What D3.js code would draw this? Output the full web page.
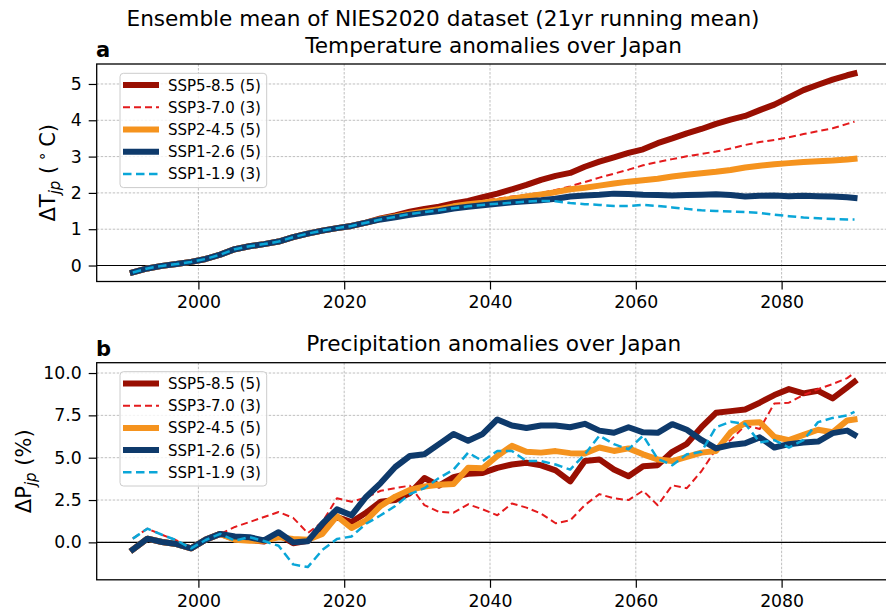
<!DOCTYPE html>
<html>
<head>
<meta charset="utf-8">
<script src="https://cdn.jsdelivr.net/npm/d3@7"></script>
<style>
  html, body { margin: 0; padding: 0; background: #fff; }
  svg { display: block; font-family: "DejaVu Sans", sans-serif; }
</style>
</head>
<body>
<svg id="chart" width="886" height="612"></svg>
<script>
// ---------------- data ----------------
const years = [1991,1993,1995,1997,1999,2001,2003,2005,2007,2009,2011,2013,2015,2017,2019,2021,2023,2025,2027,2029,
  2031,2033,2035,2037,2039,2041,2043,2045,2047,2049,2051,2053,2055,2057,2059,2061,2063,2065,2067,2069,
  2071,2073,2075,2077,2079,2081,2083,2085,2087,2089,2090];

const scenarios = ["SSP5-8.5 (5)", "SSP3-7.0 (3)", "SSP2-4.5 (5)", "SSP1-2.6 (5)", "SSP1-1.9 (3)"];

// Temperature anomalies (deg C)
const tSSP585 = [-0.19,-0.08,-0.01,0.04,0.1,0.18,0.3,0.45,0.53,0.59,0.66,0.78,0.88,0.96,1.03,1.09,1.18,
  1.3,1.38,1.48,1.56,1.62,1.71,1.78,1.88,1.98,2.1,2.22,2.36,2.47,2.55,2.72,2.86,2.98,3.1,3.2,3.37,3.5,3.64,3.76,3.9,4.02,4.12,4.28,4.43,4.63,4.83,4.98,5.12,5.24,5.29];
const tSSP370 = [-0.19,-0.08,-0.01,0.04,0.1,0.18,0.3,0.45,0.53,0.59,0.66,0.78,0.88,0.96,1.03,1.09,1.18,
  1.28,1.35,1.44,1.5,1.57,1.64,1.71,1.78,1.84,1.9,1.95,2.0,2.08,2.18,2.3,2.42,2.53,2.64,2.76,2.85,2.93,3.01,3.07,3.14,3.22,3.32,3.4,3.46,3.53,3.62,3.7,3.78,3.9,3.96];
const tSSP245 = [-0.19,-0.08,-0.01,0.04,0.1,0.18,0.3,0.45,0.53,0.59,0.66,0.78,0.88,0.96,1.03,1.09,1.18,
  1.28,1.35,1.43,1.49,1.55,1.63,1.69,1.73,1.78,1.84,1.9,1.96,2.02,2.1,2.14,2.2,2.26,2.31,2.35,2.39,2.45,2.5,2.54,2.58,2.63,2.7,2.75,2.79,2.82,2.85,2.87,2.89,2.92,2.94];
const tSSP126 = [-0.19,-0.08,-0.01,0.04,0.1,0.18,0.3,0.45,0.53,0.59,0.66,0.78,0.88,0.96,1.03,1.09,1.18,
  1.27,1.33,1.4,1.45,1.5,1.57,1.62,1.66,1.7,1.74,1.77,1.8,1.84,1.9,1.93,1.95,1.98,1.97,1.95,1.94,1.93,1.94,1.95,1.96,1.94,1.9,1.92,1.93,1.91,1.92,1.91,1.9,1.88,1.86];
const tSSP119 = [-0.19,-0.08,-0.01,0.04,0.1,0.18,0.3,0.45,0.53,0.59,0.66,0.78,0.88,0.96,1.03,1.09,1.18,
  1.27,1.34,1.42,1.47,1.52,1.58,1.63,1.67,1.7,1.73,1.76,1.78,1.77,1.72,1.69,1.67,1.64,1.64,1.67,1.64,1.6,1.56,1.52,1.5,1.49,1.47,1.45,1.4,1.36,1.32,1.3,1.28,1.27,1.27];

// Precipitation anomalies (%)
const pSSP585 = [-0.43,0.22,0.02,-0.1,-0.35,0.16,0.5,
  0.2,0.15,0.05,0.45,-0.05,0.1,0.9,1.5,1.2,1.75,2.4,2.5,2.9,3.8,3.35,3.85,4.05,4.1,4.4,4.6,
  4.7,4.55,4.25,3.6,4.8,4.9,4.3,3.9,4.5,4.56,5.35,5.82,6.8,7.65,7.75,7.85,8.25,8.7,9.05,8.8,8.95,8.5,9.15,9.49];
const pSSP370 = [0.22,0.81,0.45,0.12,-0.35,0.14,0.5,
  0.91,1.2,1.5,1.79,1.45,0.55,1.2,2.6,2.4,2.65,3.05,3.2,3.35,2.2,1.8,1.75,2.25,1.95,1.6,2.3,
  2.05,1.7,1.13,1.3,2.2,2.85,2.6,2.5,3.05,2.19,3.37,3.2,4.2,5.5,6.04,6.9,6.7,8.2,8.25,8.7,9.05,9.35,9.7,10.02];
const pSSP245 = [-0.43,0.22,0.02,-0.1,-0.35,0.16,0.5,
  0.15,0.1,0.1,0.3,0.2,0.15,0.5,1.55,0.85,1.3,2.15,2.7,3.1,3.3,3.4,3.45,4.4,4.38,5.1,5.7,
  5.35,5.3,5.39,5.27,5.25,5.6,5.4,5.55,5.2,4.9,4.8,5.05,5.3,5.4,6.5,7.05,7.1,6.23,6.04,6.35,6.65,6.5,7.2,7.26];
const pSSP126 = [-0.43,0.22,0.02,-0.1,-0.35,0.16,0.5,
  0.35,0.3,0.12,0.6,0.0,0.06,1.1,1.95,1.6,2.68,3.5,4.45,5.1,5.2,5.8,6.4,6.0,6.4,7.26,6.9,
  6.75,6.9,6.9,6.8,7.0,6.6,6.47,6.8,6.5,6.47,6.98,6.65,6.05,5.55,5.75,5.85,6.2,5.6,5.8,5.9,5.95,6.45,6.6,6.35];
const pSSP119 = [0.22,0.81,0.45,0.12,-0.35,0.14,0.5,
  0.1,0.31,0.08,-0.2,-1.3,-1.46,-0.45,0.2,0.35,1.1,1.6,2.15,2.85,3.2,3.8,4.3,5.3,4.8,5.4,5.4,
  4.8,4.8,4.6,4.3,5.2,6.3,5.8,5.5,6.3,4.93,4.56,5.2,5.35,6.8,7.12,7.0,5.9,6.04,5.6,6.04,7.1,7.35,7.5,7.71];

const xTicks = [2000, 2020, 2040, 2060, 2080];
const tTicks = [0, 1, 2, 3, 4, 5];
const pTicks = [0, 2.5, 5, 7.5, 10];

// ---------------- styles ----------------
const styles = [
  {color: "#990f02", width: 6,   dash: null},
  {color: "#e41a1c", width: 2,   dash: "7,4"},
  {color: "#f5931e", width: 6,   dash: null},
  {color: "#0e3a6b", width: 6,   dash: null},
  {color: "#0aa6d8", width: 2.5, dash: "8.5,4.5"}
];

const svg = d3.select("#chart");
const font = "DejaVu Sans, sans-serif";
const tickFont = "17.3px";
const titleFont = "21.6px";

const x = d3.scaleLinear().domain([1986.05, 2094.95]).range([96.7, 890.6]);

const panels = [
  {top: 64, bottom: 281.5, domain: [-0.44, 5.55], ticks: tTicks, fmt: d3.format("d"),
   series: [tSSP585, tSSP370, tSSP245, tSSP126, tSSP119],
   title: "Temperature anomalies over Japan", label: "a", titleY: 53, labelY: 57,
   yl: {main: "ΔT", sub: "jp", rest: "temp"}, ylX: 54.5, legendTop: 73.3},
  {top: 362.7, bottom: 579.8, domain: [-2.21, 10.61], ticks: pTicks, fmt: d3.format(".1f"),
   series: [pSSP585, pSSP370, pSSP245, pSSP126, pSSP119],
   title: "Precipitation anomalies over Japan", label: "b", titleY: 351, labelY: 356,
   yl: {main: "ΔP", sub: "jp", rest: "prec"}, ylX: 30.5, legendTop: 371.7}
];

svg.append("text").attr("x", 443).attr("y", 26).attr("text-anchor", "middle")
  .style("font-family", font).style("font-size", titleFont).attr("fill", "#000")
  .text("Ensemble mean of NIES2020 dataset (21yr running mean)");

panels.forEach((p, pi) => {
  const y = d3.scaleLinear().domain(p.domain).range([p.bottom, p.top]);
  const g = svg.append("g");
  const clipId = "clip" + pi;
  svg.append("clipPath").attr("id", clipId).append("rect")
    .attr("x", x.range()[0]).attr("y", p.top)
    .attr("width", x.range()[1] - x.range()[0]).attr("height", p.bottom - p.top);

  // grid
  const grid = g.append("g").attr("clip-path", `url(#${clipId})`);
  grid.selectAll("line.gx").data(xTicks).join("line")
    .attr("x1", d => x(d)).attr("x2", d => x(d))
    .attr("y1", p.top).attr("y2", p.bottom)
    .attr("stroke", "#b8b8b8").attr("stroke-width", 0.9).attr("stroke-dasharray", "2.5,1.5");
  grid.selectAll("line.gy").data(p.ticks).join("line")
    .attr("x1", x.range()[0]).attr("x2", x.range()[1])
    .attr("y1", d => y(d)).attr("y2", d => y(d))
    .attr("stroke", "#b8b8b8").attr("stroke-width", 0.9).attr("stroke-dasharray", "2.5,1.5");

  // zero line
  g.append("line").attr("x1", x.range()[0]).attr("x2", x.range()[1])
    .attr("y1", y(0)).attr("y2", y(0)).attr("stroke", "#000").attr("stroke-width", 1.1);

  // series
  const line = d3.line().x((d, i) => x(years[i])).y(d => y(d));
  const lg = g.append("g").attr("clip-path", `url(#${clipId})`);
  p.series.forEach((s, si) => {
    const st = styles[si];
    lg.append("path").datum(s).attr("d", line)
      .attr("fill", "none").attr("stroke", st.color).attr("stroke-width", st.width)
      .attr("stroke-linejoin", "round").attr("stroke-linecap", st.dash ? "butt" : "square")
      .attr("stroke-dasharray", st.dash);
  });

  // spines
  g.append("rect").attr("x", x.range()[0]).attr("y", p.top)
    .attr("width", x.range()[1] - x.range()[0]).attr("height", p.bottom - p.top)
    .attr("fill", "none").attr("stroke", "#000").attr("stroke-width", 1.3);

  // axes
  const xa = g.append("g").attr("transform", `translate(0,${p.bottom})`)
    .call(d3.axisBottom(x).tickValues(xTicks).tickFormat(d3.format("d")).tickSize(8).tickPadding(6.5));
  const ya = g.append("g").attr("transform", `translate(${x.range()[0]},0)`)
    .call(d3.axisLeft(y).tickValues(p.ticks).tickFormat(p.fmt).tickSize(8).tickPadding(7));
  [xa, ya].forEach(a => {
    a.select(".domain").remove();
    a.selectAll(".tick line").attr("stroke", "#000").attr("stroke-width", 1.2);
    a.selectAll(".tick text").attr("fill", "#000").style("font-family", font).style("font-size", tickFont);
  });

  // titles
  g.append("text").attr("x", (x.range()[0] + x.range()[1]) / 2).attr("y", p.titleY)
    .attr("text-anchor", "middle").style("font-family", font).style("font-size", titleFont)
    .text(p.title);
  g.append("text").attr("x", 96).attr("y", p.labelY)
    .style("font-family", font).style("font-size", "21px").style("font-weight", "bold")
    .text(p.label);

  // y label
  const cy = (p.top + p.bottom) / 2;
  const yl = g.append("text").attr("transform", `translate(${p.ylX},${cy}) rotate(-90)`)
    .attr("text-anchor", "middle").style("font-family", font).style("font-size", "21px");
  yl.append("tspan").text(p.yl.main);
  yl.append("tspan").attr("dy", 5.5).style("font-size", "15px").style("font-style", "italic").text(p.yl.sub);
  if (p.yl.rest === "temp") {
    yl.append("tspan").attr("dy", -5.5).text(" (");
    yl.append("tspan").attr("dy", -8).style("font-size", "15px").text(" ∘ ");
    yl.append("tspan").attr("dy", 8).text("C)");
  } else {
    yl.append("tspan").attr("dy", -5.5).text(" (%)");
  }

  // legend
  const lx = 120, lw = 146.7, lh = 114.3;
  const leg = g.append("g");
  leg.append("rect").attr("x", lx).attr("y", p.legendTop).attr("width", lw).attr("height", lh)
    .attr("rx", 3.5).attr("fill", "#fff").attr("fill-opacity", 0.8)
    .attr("stroke", "#cccccc").attr("stroke-width", 1);
  scenarios.forEach((name, si) => {
    const st = styles[si];
    const ry = p.legendTop + 11.8 + si * 22.2;
    leg.append("line").attr("x1", 123).attr("x2", 159).attr("y1", ry).attr("y2", ry)
      .attr("stroke", st.color).attr("stroke-width", st.width)
      .attr("stroke-dasharray", st.dash).attr("stroke-linecap", "butt");
    leg.append("text").attr("x", 168).attr("y", ry).attr("dy", "0.36em")
      .style("font-family", font).style("font-size", "15px").text(name);
  });
});
</script>
</body>
</html>
